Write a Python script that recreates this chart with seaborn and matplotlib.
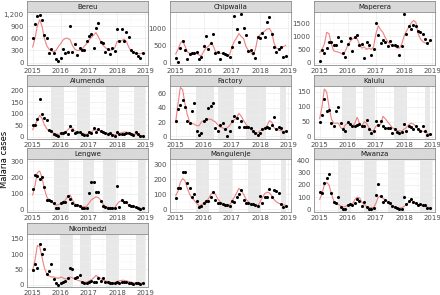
import numpy as np
import pandas as pd
import seaborn as sns
import matplotlib.pyplot as plt

# monthly malaria cases per village, Jan 2015 - Dec 2018
months = pd.date_range("2015-01-01", "2018-12-01", freq="MS")
villages = ["Bereu", "Chipwaila", "Maperera", "Alumenda", "Factory", "Kalulu",
            "Lengwe", "Mangulenje", "Mwanza", "Nkombedzi"]

bereu_cases = [600, 960, 1150, 1180, 1060, 680, 600, 225, 330, 225, 80, 30,
               125, 325, 240, 265, 900, 265, 460, 180, 360, 320, 310, 530,
               660, 710, 350, 850, 975, 510, 475, 250, 325, 215, 365, 285,
               840, 540, 840, 540, 765, 640, 310, 250, 235, 160, 125, 235]
bereu_fit = [380, 600, 900, 1060, 900, 600, 420, 330, 290, 270, 300, 400,
             470, 560, 600, 600, 560, 420, 330, 300, 300, 320, 400, 470,
             560, 620, 680, 740, 640, 520, 430, 370, 320, 300, 320, 360,
             520, 540, 540, 580, 520, 380, 280, 240, 230, 220, 220, 240]

chipwaila_cases = [130, 10, 415, 620, 365, 120, 250, 280, 280, 305, 100, 150,
                   475, 780, 395, 585, 830, 290, 300, 100, 280, 260, 220, 170,
                   445, 1350, 990, 595, 1415, 1010, 810, 345, 365, 290, 130, 740,
                   730, 870, 760, 1190, 1340, 830, 465, 320, 385, 465, 170, 180]
chipwaila_fit = [250, 380, 560, 640, 480, 320, 270, 270, 280, 270, 220, 200,
                 330, 430, 480, 560, 500, 320, 280, 270, 270, 240, 200, 230,
                 450, 620, 720, 850, 760, 700, 470, 360, 300, 220, 380, 720,
                 820, 880, 920, 980, 1000, 880, 560, 420, 400, 420, 470, 510]

maperera_cases = [65, 475, 370, 575, 795, 780, 665, 665, 985, 830, 360, 205,
                  700, 935, 450, 975, 1060, 680, 705, 180, 770, 680, 280, 510,
                  1500, 1050, 740, 860, 770, 640, 830, 655, 665, 615, 305, 630,
                  1830, 1090, 1380, 1280, 1445, 1380, 1200, 1180, 1075, 885, 740, 870]
maperera_fit = [380, 500, 700, 1150, 1100, 700, 450, 420, 400, 360, 310, 450,
                650, 800, 900, 950, 900, 700, 550, 600, 500, 560, 500, 600,
                1100, 1400, 1250, 1150, 950, 800, 700, 650, 620, 560, 550, 700,
                1000, 1200, 1350, 1500, 1600, 1550, 1100, 900, 800, 750, 750, 800]

alumenda_cases = [50, 50, 77, 165, 97, 79, 74, 29, 25, 12, 8, 3,
                  15, 14, 19, 11, 48, 28, 15, 20, 19, 11, 6, 6,
                  22, 14, 37, 22, 32, 26, 22, 17, 11, 15, 6, 3,
                  19, 11, 12, 11, 15, 15, 11, 6, 22, 11, 3, 3]
alumenda_fit = [30, 50, 72, 92, 80, 52, 35, 25, 20, 15, 12, 10,
                15, 18, 20, 30, 40, 38, 25, 20, 18, 15, 12, 10,
                15, 20, 28, 30, 27, 25, 20, 17, 15, 12, 10, 8,
                12, 15, 18, 20, 20, 18, 15, 12, 10, 8, 5, 4]

factory_cases = [22, 38, 43, 51, 41, 22, 18, 36, 46, 8, 2, 5,
                 22, 24, 40, 42, 46, 12, 8, 16, 18, 11, 1, 8,
                 21, 29, 25, 13, 22, 13, 13, 13, 12, 8, 5, 2,
                 5, 10, 12, 13, 12, 16, 27, 11, 13, 12, 6, 7]
factory_fit = [20, 45, 68, 65, 45, 30, 20, 18, 17, 15, 15, 20,
               22, 23, 24, 24, 22, 20, 16, 13, 12, 10, 12, 15,
               20, 23, 26, 32, 28, 22, 17, 13, 10, 7, 5, 5,
               8, 10, 12, 15, 22, 20, 12, 10, 9, 8, 7, 7]

kalulu_cases = [50, 71, 126, 86, 88, 46, 35, 85, 101, 46, 26, 18,
                50, 43, 35, 36, 38, 43, 35, 36, 56, 24, 12, 20,
                52, 40, 52, 36, 30, 30, 29, 12, 26, 17, 12, 17,
                43, 20, 36, 32, 26, 36, 24, 20, 36, 20, 5, 8]
kalulu_fit = [60, 100, 160, 150, 100, 60, 45, 45, 45, 30, 25, 40,
              45, 40, 35, 45, 65, 45, 35, 50, 45, 30, 20, 20,
              35, 40, 40, 68, 60, 50, 40, 30, 25, 20, 20, 18,
              25, 30, 40, 45, 42, 35, 25, 22, 18, 15, 12, 5]

lengwe_cases = [127, 215, 209, 189, 203, 139, 60, 60, 54, 40, 8, 8,
                40, 46, 50, 84, 66, 44, 26, 30, 20, 10, 10, 12,
                105, 169, 173, 110, 110, 56, 24, 14, 12, 10, 8, 8,
                145, 16, 60, 48, 50, 30, 20, 20, 16, 8, 6, 8]
lengwe_fit = [90, 150, 230, 240, 200, 130, 80, 60, 50, 35, 28, 30,
              40, 50, 60, 85, 90, 60, 35, 30, 25, 20, 18, 20,
              40, 60, 70, 80, 75, 60, 35, 20, 15, 12, 10, 10,
              35, 50, 55, 50, 40, 30, 22, 18, 15, 10, 8, 8]

mangulenje_cases = [74, 145, 145, 247, 247, 173, 143, 81, 104, 58, 18, 23,
                    46, 58, 53, 81, 115, 62, 46, 42, 35, 28, 28, 23,
                    58, 51, 85, 104, 127, 65, 46, 46, 35, 35, 28, 23,
                    88, 46, 81, 81, 139, 85, 127, 120, 106, 35, 18, 23]
mangulenje_fit = [90, 120, 180, 205, 190, 140, 100, 75, 60, 40, 25, 30,
                  45, 55, 70, 100, 115, 100, 70, 50, 40, 35, 30, 30,
                  55, 80, 110, 140, 125, 100, 70, 50, 40, 30, 25, 25,
                  50, 80, 105, 115, 110, 90, 65, 50, 40, 35, 30, 28]

mwanza_cases = [144, 131, 215, 253, 286, 136, 63, 54, 103, 22, 5, 5,
                35, 41, 35, 54, 84, 71, 27, 63, 22, 8, 8, 11,
                120, 204, 109, 63, 76, 63, 49, 27, 22, 14, 8, 8,
                98, 41, 71, 84, 60, 49, 35, 41, 35, 35, 16, 14]
mwanza_fit = [80, 130, 200, 220, 200, 130, 70, 50, 40, 30, 20, 25,
              35, 40, 45, 80, 100, 95, 60, 40, 25, 18, 15, 15,
              50, 100, 110, 90, 80, 65, 45, 30, 22, 15, 12, 15,
              25, 40, 60, 75, 65, 50, 40, 35, 30, 25, 20, 15]

nkombedzi_cases = [47, 69, 56, 134, 99, 118, 36, 43, 66, 19, 4, 0,
                   6, 9, 13, 21, 55, 51, 23, 26, 32, 10, 6, 6,
                   9, 13, 9, 10, 23, 13, 23, 10, 8, 6, 4, 6,
                   10, 6, 9, 10, 9, 6, 6, 1, 6, 5, 3, 6]
nkombedzi_fit = [45, 80, 128, 125, 90, 55, 35, 28, 25, 25, 22, 20,
                 25, 22, 18, 20, 25, 22, 18, 15, 12, 10, 8, 8,
                 12, 15, 22, 30, 25, 20, 15, 12, 10, 8, 6, 6,
                 10, 12, 14, 14, 12, 10, 8, 6, 5, 5, 5, 5]

# spraying periods (decimal years) for the villages that had them
alumenda_spray = [(2015.65, 2016.10), (2016.56, 2017.03), (2017.60, 2018.06), (2018.60, 2019.00)]
factory_spray = [(2015.74, 2016.38), (2016.50, 2017.09), (2017.49, 2018.22), (2018.70, 2018.93)]
kalulu_spray = [(2015.80, 2016.28), (2016.55, 2016.97), (2017.64, 2018.10), (2018.73, 2018.93)]
lengwe_spray = [(2015.77, 2016.28), (2016.80, 2017.17), (2017.50, 2017.98), (2018.75, 2019.00)]
mangulenje_spray = [(2015.74, 2016.20), (2016.54, 2017.00), (2017.57, 2018.04), (2018.73, 2018.93)]
mwanza_spray = [(2015.67, 2016.12), (2016.56, 2016.99), (2017.42, 2018.00), (2018.55, 2018.98)]
nkombedzi_spray = [(2015.98, 2016.44), (2016.67, 2017.06), (2017.60, 2018.06), (2018.67, 2018.98)]

cases = dict(zip(villages, [bereu_cases, chipwaila_cases, maperera_cases, alumenda_cases,
                            factory_cases, kalulu_cases, lengwe_cases, mangulenje_cases,
                            mwanza_cases, nkombedzi_cases]))
fits = dict(zip(villages, [bereu_fit, chipwaila_fit, maperera_fit, alumenda_fit,
                           factory_fit, kalulu_fit, lengwe_fit, mangulenje_fit,
                           mwanza_fit, nkombedzi_fit]))
sprays = {"Alumenda": alumenda_spray, "Factory": factory_spray, "Kalulu": kalulu_spray,
          "Lengwe": lengwe_spray, "Mangulenje": mangulenje_spray, "Mwanza": mwanza_spray,
          "Nkombedzi": nkombedzi_spray}

# y axis setup per panel (free scales)
yaxis = {
    "Bereu": ((-60, 1250), [0, 300, 600, 900, 1200], ["0", "300", "600", "900", "1,200"]),
    "Chipwaila": ((-70, 1480), [0, 500, 1000], ["0", "500", "1000"]),
    "Maperera": ((-90, 1925), [0, 500, 1000, 1500], ["0", "500", "1000", "1500"]),
    "Alumenda": ((-10, 220), [0, 50, 100, 150, 200], ["0", "50", "100", "150", "200"]),
    "Factory": ((-3.5, 70), [0, 20, 40, 60], ["0", "20", "40", "60"]),
    "Kalulu": ((-8, 170), [0, 50, 100, 150], ["0", "50", "100", "150"]),
    "Lengwe": ((-15, 315), [0, 100, 200, 300], ["0", "100", "200", "300"]),
    "Mangulenje": ((-17, 335), [0, 100, 200, 300], ["0", "100", "200", "300"]),
    "Mwanza": ((-20, 410), [0, 100, 200, 300, 400], ["0", "100", "200", "300", "400"]),
    "Nkombedzi": ((-8, 166), [0, 50, 100, 150], ["0", "50", "100", "150"]),
}

df = pd.DataFrame({
    "village": np.repeat(villages, len(months)),
    "date": np.tile(months, len(villages)),
    "cases": np.concatenate([cases[v] for v in villages]),
    "fit": np.concatenate([fits[v] for v in villages]),
})
df["year"] = df["date"].dt.year + (df["date"].dt.month - 1) / 12

sns.set_theme(style="white")
plt.rcParams['font.family'] = ['DejaVu Sans']

W, H = 440, 295
fig = plt.figure(figsize=(W / 100, H / 100), dpi=100)

col_left = [27, 170, 314]
panel_w = 121
row_top = [1, 75, 148, 223]
strip_h = 11
panel_h = 53
red = "#F08080"

for i, v in enumerate(villages):
    r, c = divmod(i, 3)
    x0 = col_left[c]
    y_strip = row_top[r]
    sax = fig.add_axes([x0 / W, 1 - (y_strip + strip_h) / H, panel_w / W, strip_h / H])
    sax.set_facecolor("#D9D9D9")
    sax.set_xticks([]); sax.set_yticks([])
    for s in sax.spines.values():
        s.set_color("#8C8C8C"); s.set_linewidth(0.6)
    sax.text(0.5, 0.45, v, ha="center", va="center", fontsize=5, color="#1A1A1A",
             transform=sax.transAxes)

    ax = fig.add_axes([x0 / W, 1 - (y_strip + strip_h + panel_h) / H, panel_w / W, panel_h / H])
    ax.set_facecolor("white")
    for a, b in sprays.get(v, []):
        ax.axvspan(a, b, color="#E8E8E8", lw=0, zorder=0.5)
    sub = df[df.village == v]
    sns.lineplot(data=sub, x="year", y="fit", ax=ax, color=red, lw=0.8, zorder=2)
    sns.scatterplot(data=sub, x="year", y="cases", ax=ax, color="black", s=5,
                    linewidth=0, zorder=3)

    ylim, yt, ytl = yaxis[v]
    ax.set_xlim(2014.8, 2019.1)
    ax.set_ylim(*ylim)
    ax.set_xticks([2015, 2016, 2017, 2018, 2019])
    ax.set_xticklabels(["2015", "2016", "2017", "2018", "2019"])
    ax.set_xticks([2015.5, 2016.5, 2017.5, 2018.5], minor=True)
    ax.set_yticks(yt)
    ax.set_yticklabels(ytl)
    ax.set_yticks([(a + b) / 2 for a, b in zip(yt[:-1], yt[1:])], minor=True)
    ax.grid(True, which="major", color="#EBEBEB", lw=0.5, zorder=0)
    ax.grid(True, which="minor", color="#F4F4F4", lw=0.3, zorder=0)
    ax.set_axisbelow(True)
    ax.tick_params(axis="both", which="major", labelsize=5, colors="#4D4D4D",
                   length=1.5, width=0.4, pad=1)
    ax.tick_params(axis="both", which="minor", length=0)
    for s in ax.spines.values():
        s.set_color("#8C8C8C"); s.set_linewidth(0.6)
    ax.set_xlabel("")
    ax.set_ylabel("")

fig.text(5 / W, 0.46, "Malaria cases", rotation=90, ha="center", va="center",
         fontsize=6, color="black")

fig.savefig("out.png", dpi=100)
